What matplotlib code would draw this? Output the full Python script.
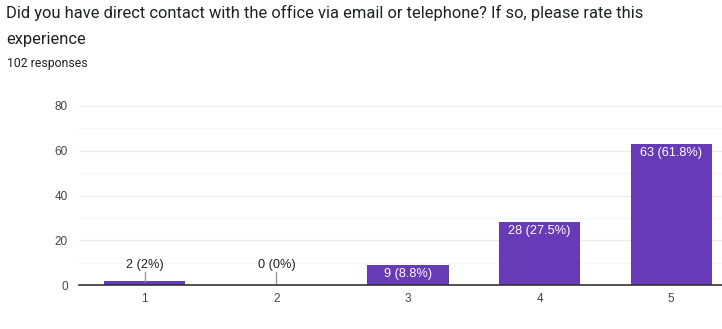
import matplotlib
matplotlib.use("Agg")
import matplotlib.pyplot as plt

# survey data
categories = ["1", "2", "3", "4", "5"]
counts = [2, 0, 9, 28, 63]
percents = ["2%", "0%", "8.8%", "27.5%", "61.8%"]
yticks = [0, 20, 40, 60, 80]

title = "Did you have direct contact with the office via email or telephone? If so, please rate this\nexperience"
subtitle = "102 responses"

bar_color = "#673ab7"

fig = plt.figure(figsize=(7.22, 3.29), dpi=100)
fig.text(6 / 722, 1 - 5 / 329, title, fontsize=11.9, family="Roboto", color="#202124",
         va="top", ha="left", linespacing=1.95)
fig.text(7 / 722, 1 - 63 / 329, subtitle, fontsize=8.8, family="Roboto", color="#202124",
         va="center", ha="left")

ax = fig.add_axes([79 / 722, 1 - 285 / 329, 658 / 722, 179 / 329])
x = list(range(len(categories)))
ax.bar(x, counts, width=0.616, color=bar_color, zorder=3)

ax.set_xlim(-0.5, len(categories) - 0.5)
ax.set_ylim(0, 80)
ax.set_yticks(yticks)
ax.set_yticks([10, 30, 50, 70], minor=True)
ax.set_xticks(x)
ax.set_xticklabels(categories)
ax.grid(axis="y", which="major", color="#ebebeb", lw=1, zorder=0)
ax.grid(axis="y", which="minor", color="#f5f5f5", lw=1, zorder=0)
ax.tick_params(axis="both", which="both", length=0, labelsize=8.5, labelcolor="#444444")
ax.tick_params(axis="x", pad=6)
ax.tick_params(axis="y", pad=8)
for lab in ax.get_xticklabels() + ax.get_yticklabels():
    lab.set_family("Liberation Sans")
for s in ["top", "right", "left"]:
    ax.spines[s].set_visible(False)
ax.spines["bottom"].set_color("#333333")
ax.spines["bottom"].set_linewidth(1.2)
ax.spines["bottom"].set_zorder(4)

for i, (c, p) in enumerate(zip(counts, percents)):
    label = f"{c} ({p})"
    if c >= 5:
        ax.text(i, c - 1.2, label, ha="center", va="top", color="white",
                fontsize=9.2, family="Liberation Sans", zorder=5)
    else:
        ax.plot([i, i], [c, 5.8], color="#999999", lw=1, zorder=4)
        ax.text(i, 6.3, label, ha="center", va="bottom", color="#222222",
                fontsize=9.2, family="Liberation Sans", zorder=5)

fig.savefig("out.png", dpi=100)
